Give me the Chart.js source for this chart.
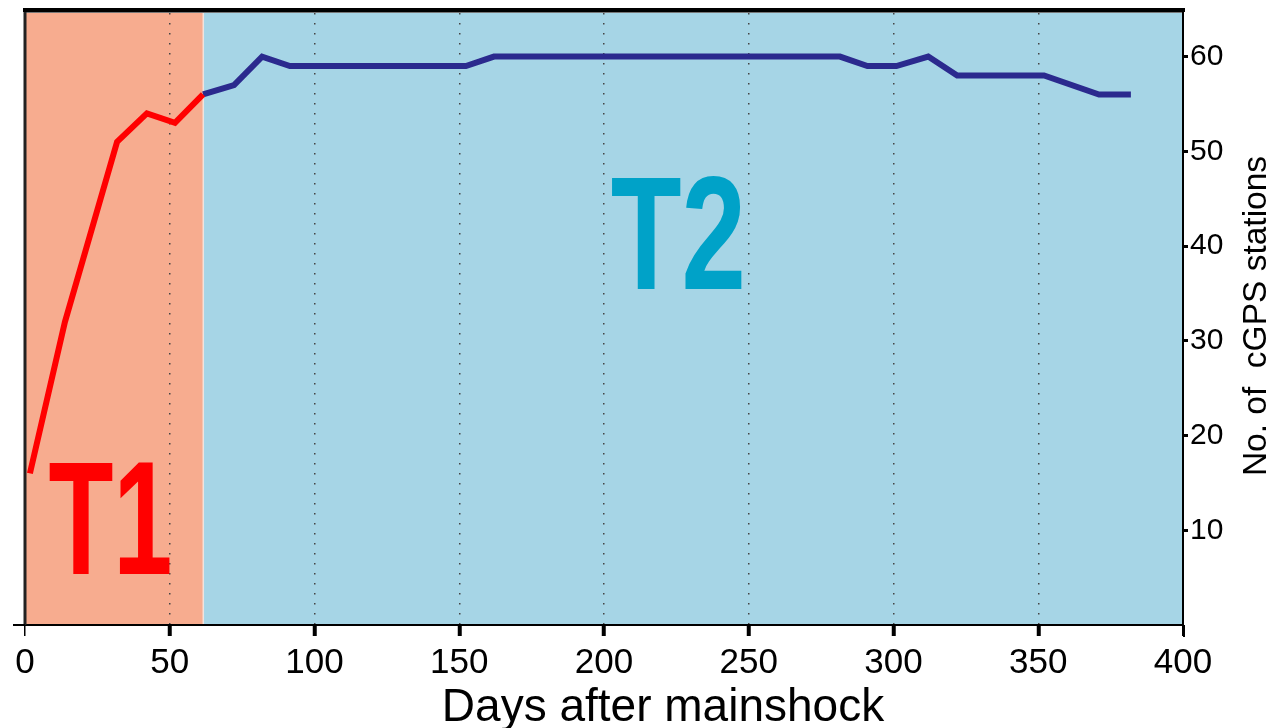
<!DOCTYPE html>
<html>
<head>
<meta charset="utf-8">
<script src="https://cdn.jsdelivr.net/npm/chart.js@4.4.1/dist/chart.umd.min.js"></script>
<style>
  html, body { margin: 0; padding: 0; background: #ffffff; }
  #wrap { width: 1274px; height: 728px; position: relative; }
</style>
</head>
<body>
<div id="wrap"><canvas id="c" width="1274" height="728"></canvas></div>
<script>
// ---- data ----
const t1Days = [1.7, 13.8, 31.8, 42.1, 51.8, 61.5];
const t1Stations = [16, 32, 51, 54, 53, 56];
const t2Days = [61.5, 72.2, 81.9, 91.5, 152.3, 162, 281.5, 291, 301, 312, 322, 352, 371, 382];
const t2Stations = [56, 57, 60, 59, 59, 60, 60, 59, 59, 60, 58, 58, 56, 56];
const xTicks = [0, 50, 100, 150, 200, 250, 300, 350, 400];
const yTicks = [10, 20, 30, 40, 50, 60];
const periodLabels = ['T1', 'T2'];
const periodBounds = [0, 61.5, 400];
const xTitle = 'Days after mainshock';
const yTitle = 'No. of  cGPS stations';

const FONT = '"Liberation Sans", Arial, Helvetica, sans-serif';

const toPts = (xs, ys) => xs.map((x, i) => ({x: x, y: ys[i]}));

const decor = {
  id: 'decor',
  beforeDraw(chart) {
    const {ctx, chartArea: a, scales: {x}} = chart;
    const b0 = x.getPixelForValue(periodBounds[0]);
    const b1 = x.getPixelForValue(periodBounds[1]);
    const b2 = x.getPixelForValue(periodBounds[2]);
    ctx.save();
    ctx.fillStyle = '#F7AC8F';
    ctx.fillRect(b0, a.top, b1 - b0, a.bottom - a.top);
    ctx.fillStyle = '#A6D5E6';
    ctx.fillRect(b1, a.top, b2 - b1, a.bottom - a.top);
    ctx.fillStyle = '#F3E3DC';
    ctx.fillRect(b1 - 0.5, a.top, 1.5, a.bottom - a.top);
    // top frame
    ctx.fillStyle = '#000';
    ctx.fillRect(a.left - 2, a.top - 5, a.right - a.left + 4, 4);
    ctx.fillStyle = '#777';
    ctx.fillRect(a.left, a.top - 1, a.right - a.left, 1);
    ctx.restore();
  },
  beforeDatasetsDraw(chart) {
    const {ctx, scales: {x, y}} = chart;
    ctx.save();
    ctx.font = 'bold 161px ' + FONT;
    ctx.textAlign = 'center';
    ctx.textBaseline = 'alphabetic';
    const drawBig = (txt, dx, dy, sx, color) => {
      ctx.save();
      ctx.translate(x.getPixelForValue(dx), y.getPixelForValue(dy));
      ctx.scale(sx, 1);
      ctx.fillStyle = color;
      ctx.fillText(txt, 0, 0);
      ctx.restore();
    };
    drawBig(periodLabels[0], 29.5, 5.4, 0.66, '#FF0000');
    drawBig(periodLabels[1], 225.7, 35.5, 0.72, '#00A2C8');
    ctx.restore();
  },
  afterDraw(chart) {
    const {ctx, chartArea: a} = chart;
    ctx.save();
    // left frame line
    ctx.strokeStyle = '#222';
    ctx.lineWidth = 3;
    ctx.beginPath();
    ctx.moveTo(a.left, a.top - 1);
    ctx.lineTo(a.left, a.bottom);
    ctx.stroke();
    // x-axis line extension to the left, right axis extension downward
    ctx.lineWidth = 2;
    ctx.strokeStyle = '#000';
    ctx.beginPath();
    ctx.moveTo(a.left - 12, a.bottom);
    ctx.lineTo(a.left, a.bottom);
    ctx.moveTo(a.right + 1, a.bottom);
    ctx.lineTo(a.right + 1, a.bottom + 12);
    ctx.stroke();
    // x title
    ctx.fillStyle = '#000';
    ctx.font = '46px ' + FONT;
    ctx.textAlign = 'center';
    ctx.textBaseline = 'alphabetic';
    ctx.fillText(xTitle, 663, 721);
    // y title (right, reading bottom to top)
    ctx.font = '33.5px ' + FONT;
    ctx.translate(1257, 316);
    ctx.rotate(-Math.PI / 2);
    ctx.textBaseline = 'middle';
    ctx.fillText(yTitle, 0, 0);
    ctx.restore();
  }
};

new Chart(document.getElementById('c'), {
  type: 'scatter',
  data: {
    datasets: [
      {
        label: periodLabels[0],
        data: toPts(t1Days, t1Stations),
        showLine: true,
        borderColor: '#FF0000',
        backgroundColor: '#FF0000',
        borderWidth: 6,
        pointRadius: 0,
        tension: 0
      },
      {
        label: periodLabels[1],
        data: toPts(t2Days, t2Stations),
        showLine: true,
        borderColor: '#2B2A8E',
        backgroundColor: '#2B2A8E',
        borderWidth: 6,
        pointRadius: 0,
        tension: 0
      }
    ]
  },
  options: {
    responsive: false,
    devicePixelRatio: 1,
    animation: false,
    layout: { padding: { left: 25, top: 13, right: 0, bottom: 0 } },
    plugins: { legend: { display: false }, tooltip: { enabled: false } },
    scales: {
      x: {
        type: 'linear',
        position: 'bottom',
        min: 0,
        max: 400,
        afterBuildTicks: (s) => { s.ticks = xTicks.map(v => ({value: v})); },
        afterFit: (s) => { s.height = 103; },
        ticks: {
          color: '#000',
          font: { size: 35, family: FONT, lineHeight: 0.7 },
          padding: 15,
          maxRotation: 0,
          autoSkip: false
        },
        grid: {
          display: true,
          drawOnChartArea: true,
          drawTicks: true,
          tickLength: 11,
          color: (c) => (c.tick && (c.tick.value === 0 || c.tick.value === 400)) ? 'rgba(0,0,0,0)' : '#444',
          lineWidth: 1.5,
          tickColor: '#000',
          tickWidth: (c) => (c.tick && (c.tick.value === 0 || c.tick.value === 400)) ? 1.5 : 4
        },
        border: { display: true, color: '#000', width: 2, dash: [1.5, 8.5] }
      },
      y: {
        type: 'linear',
        position: 'right',
        min: 0,
        max: 64.6,
        afterBuildTicks: (s) => { s.ticks = yTicks.map(v => ({value: v})); },
        afterFit: (s) => { s.width = 91; },
        ticks: {
          color: '#000',
          font: { size: 30, family: FONT, lineHeight: 0.7 },
          padding: 2
        },
        grid: {
          display: true,
          drawOnChartArea: false,
          drawTicks: true,
          tickLength: 5,
          tickColor: '#000',
          tickWidth: 3
        },
        border: { display: true, color: '#000', width: 2 }
      }
    }
  },
  plugins: [decor]
});
</script>
</body>
</html>
